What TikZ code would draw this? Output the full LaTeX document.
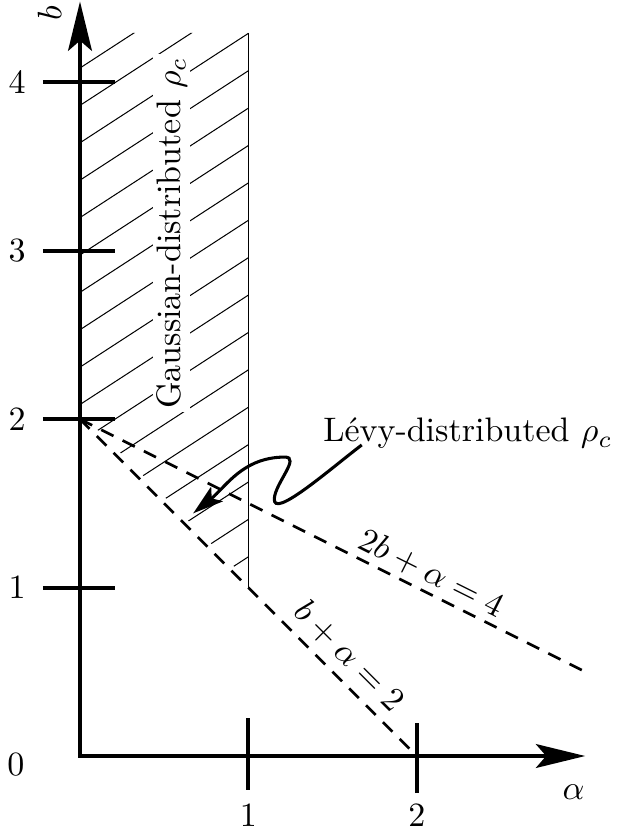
\documentclass[tikz,border=0pt]{standalone}
\usetikzlibrary{arrows.meta}
\begin{document}
\begin{tikzpicture}[x=1.741cm,y=1.741cm,
  axis/.style={line width=1.2pt},
  tickmark/.style={line width=1.2pt},
  bound/.style={line width=0.8pt, dash pattern=on 4pt off 3pt},
  hatch/.style={line width=0.3pt},
  bigtip/.tip={Stealth[length=14.5pt,width=7pt,inset=3pt]},
  smalltip/.tip={Stealth[length=9pt,width=5.5pt,inset=2pt]},
]
\useasboundingbox (-0.475,-0.469) rectangle (3.183,4.489);
% coordinates
\coordinate (O) at (0,0);
\coordinate (xend) at (3,0);
\coordinate (yend) at (0,4.48);
\coordinate (P2) at (0,2);
\coordinate (Q2) at (2,0);
\coordinate (R) at (3,0.5);
\coordinate (vb) at (1,1);
\coordinate (vt) at (1,4.293);
% hatching
\begin{scope}
\clip (0,2.04) -- (0,4.293) -- (1,4.293) -- (1,1.04) -- cycle;
\foreach \k in {0,...,16} \draw[hatch] (0,4.085-0.222*\k) -- ++(1.05,0.6825);
\end{scope}
\draw[line width=0.4pt] (vb) -- (vt);
\node[rotate=90, fill=white, inner sep=1pt] (gauss) at (0.545,3.105) {Gaussian-distributed $\rho_c$};
% dashed boundaries
\draw[bound] (P2) -- (Q2) node[pos=0.752, sloped, above, inner sep=2.5pt] (lab1) {$b+\alpha=2$};
\draw[bound] (P2) -- (R) node[pos=0.678, sloped, above, inner sep=1.4pt] (lab2) {$2b+\alpha=4$};
% axes
\draw[axis, {bigtip}-{bigtip}] (yend) -- (O) -- (xend);
% ticks
\draw[tickmark] (1,-0.2) -- (1,0.225);
\draw[tickmark] (2,-0.22) -- (2,0.195);
\foreach \v in {1,2,3,4} \draw[tickmark] (-0.22,\v) -- (0.21,\v);
% tick labels
\node (l0) at (-0.38,-0.05) {$0$};
\node (lx1) at (1,-0.356) {$1$};
\node (lx2) at (2,-0.356) {$2$};
\foreach \v in {1,2,3,4} \node (ly\v) at (-0.374,\v) {$\v$};
\node (alab) at (2.93,-0.214) {$\alpha$};
\node[rotate=90] (blab) at (-0.18,4.41) {$b$};
% Levy label and arrow
\node[anchor=base east, inner sep=0pt] (levy) at (3.165,1.865) {Lévy-distributed $\rho_c$};
\coordinate (ls) at (1.673,1.847);
\coordinate (lt) at (0.672,1.441);
\draw[line width=0.9pt, -{smalltip}] (ls) .. controls (1.48,1.70) and (1.14,1.40) .. (1.154,1.53)
  .. controls (1.16,1.62) and (1.31,1.775) .. (1.217,1.775)
  .. controls (0.967,1.775) and (0.866,1.598) .. (lt);
\end{tikzpicture}
\end{document}
